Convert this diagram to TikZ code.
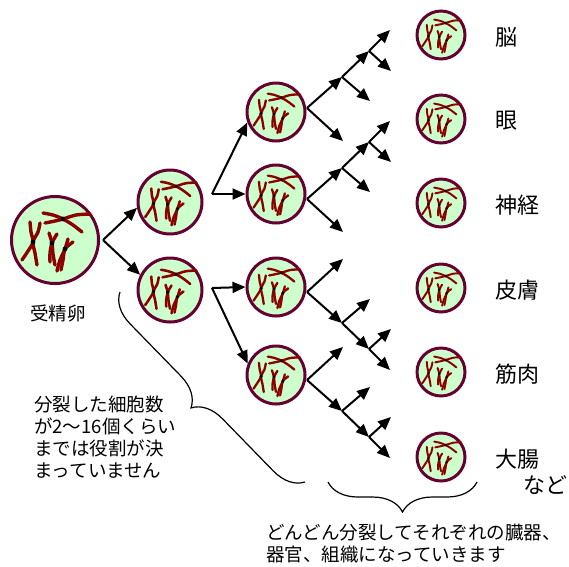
\documentclass[tikz,border=0pt]{standalone}
\usepackage{fontspec}
\setmainfont{Noto Sans CJK JP}
\usepackage{tikz}
\usetikzlibrary{positioning,arrows.meta,decorations.pathreplacing}

\definecolor{cellfill}{RGB}{204,255,204}
\definecolor{cellrim}{RGB}{102,0,51}
\definecolor{chromo}{RGB}{140,0,0}

% chromosomes in a cell: #1 = cell node, #2 = scale (1 for the big egg)
\newcommand{\chromosomes}[2]{%
  \begin{scope}[shift={(#1.center)}, scale=#2, line width=#2*3.4pt, draw=chromo, line cap=round]
    \draw plot[smooth] coordinates {(-12,-27) (-2,-25) (8,-21) (18,-15) (27,-8)};
    \draw plot[smooth] coordinates {(-10,-17) (0,-19) (8,-21) (21,-25) (35,-26)};
    \draw plot[smooth] coordinates {(-25,-18) (-24,-8) (-22,2) (-27,11) (-33,20)};
    \draw plot[smooth] coordinates {(-15,-17) (-17,-8) (-22,2) (-20,13) (-18,25)};
    \draw plot[smooth] coordinates {(-6,-7) (-3,3) (-2,14) (0,25)};
    \draw plot[smooth] coordinates {(2,-6) (-3,3) (-5,13) (-5,22)};
    \draw plot[smooth] coordinates {(13,-1) (10,9) (5,20) (2,31)};
    \draw plot[smooth] coordinates {(18,2) (10,9) (8,20) (6,30)};
    \fill[black] (8,-21) circle[radius=2.4] (-22,2) circle[radius=2.4]
      (-3,3) circle[radius=2.4] (10,9) circle[radius=2.4];
  \end{scope}}

\begin{document}
\begin{tikzpicture}[x=1pt, y=-1pt,
  cell/.style={circle, draw=cellrim, fill=cellfill, line width=3pt, inner sep=0pt},
  arr/.style={-{Triangle[length=13pt,width=11pt]}, line width=2pt},
  lbl/.style={font=\fontsize{22}{26}\selectfont, inner sep=0pt},
  note/.style={font=\fontsize{18.5}{22}\selectfont, align=left, inner sep=0pt},
  curly/.style={decorate, decoration={brace, mirror, amplitude=30pt}, line width=1.2pt}
]
  \useasboundingbox (0,0) rectangle (569,566);

  % fertilised egg and first two divisions
  \node[cell, minimum size=87pt] (zyg) at (55,240) {};
  \chromosomes{zyg}{1}
  \node[note] (zyglabel) at (58,313) {受精卵};

  \node[cell, minimum size=64pt] (c21) at (170,202) {};
  \node[cell, minimum size=64pt] (c22) at (170,290) {};
  \chromosomes{c21}{0.75}
  \chromosomes{c22}{0.75}

  \foreach \i/\y in {1/112, 2/194, 3/287, 4/375}{
    \node[cell, minimum size=58pt] (c3\i) at (276,\y) {};
    \chromosomes{c3\i}{0.68}
  }

  \coordinate (split0) at (103,240);
  \draw[arr] (split0) -- (c21.190);
  \draw[arr] (split0) -- (c22.153);

  \coordinate (split1) at (212,194);
  \draw[arr] (split1) -- (c31.200);
  \draw[arr] (split1) -- (c32.west);

  \coordinate (split2) at (212,288);
  \draw[arr] (split2) -- (c33.west);
  \draw[arr] (split2) -- (c34.158);

  % further divisions (up-going chains on top, down-going below)
  \foreach \k/\vy/\s in {1/108/-1, 2/199/-1, 3/292/1, 4/380/1}{
    \begin{scope}[shift={(307,\vy)}, yscale=\s]
      \coordinate (fork\k) at (0,0);
      \coordinate (ch\k a) at (35,31);
      \coordinate (ch\k b) at (62,57);
      \coordinate (ch\k c) at (83,78);
      \coordinate (off\k a) at (63,7);
      \coordinate (off\k b) at (84,37);
      \coordinate (other\k) at (36,-33);
    \end{scope}
    \draw[arr] (fork\k) -- (ch\k a);
    \draw[arr] (ch\k a) -- (ch\k b);
    \draw[arr] (ch\k b) -- (ch\k c);
    \draw[arr] (ch\k a) -- (off\k a);
    \draw[arr] (ch\k b) -- (off\k b);
    \draw[arr] (fork\k) -- (other\k);
  }

  % differentiated cells
  \foreach \i/\y/\t in {1/35/脳, 2/119/眼, 3/203/神経, 4/288/皮膚, 5/372/筋肉, 6/457/大腸}{
    \node[cell, minimum size=48pt] (f\i) at (441,\y) {};
    \chromosomes{f\i}{0.57}
    \node[lbl, right=29pt of f\i, yshift=-2pt] (t\i) {\t};
  }
  \node[lbl] (etc) at (545,485) {など};

  % braces and notes
  \draw[curly] (120,292) -- (305,482);
  \draw[curly] (328,482) -- (477,482);

  \node[note, anchor=west] (undecided) at (34,437)
    {分裂した細胞数\\が2〜16個くらい\\までは役割が決\\まっていません};
  \node[note, anchor=west] (organs) at (266,544)
    {どんどん分裂してそれぞれの臓器、\\器官、組織になっていきます};
\end{tikzpicture}
\end{document}
